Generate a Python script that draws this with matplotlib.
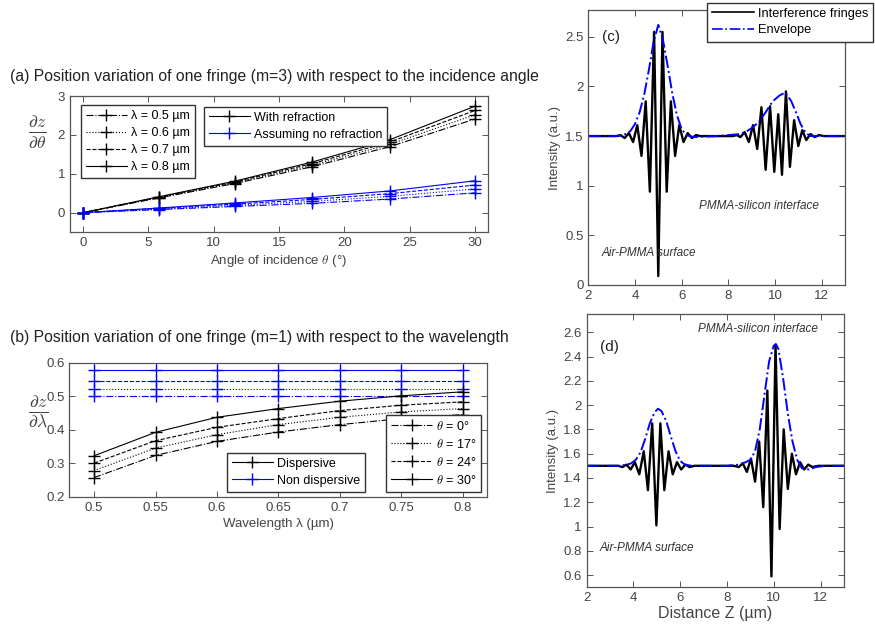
import numpy as np
import matplotlib
matplotlib.use("Agg")
import matplotlib.pyplot as plt
from matplotlib.lines import Line2D

plt.rcParams['font.family'] = ['Liberation Sans', 'DejaVu Sans']
plt.rcParams['mathtext.fontset'] = 'cm'

GREY = '#555555'
TXT = '#444444'

# (a) dz/dtheta vs angle of incidence, m = 3
theta_deg = [0, 5.8, 11.6, 17.5, 23.5, 30]
refr_05 = [0, 0.38, 0.75, 1.18, 1.70, 2.41]
refr_06 = [0, 0.39, 0.77, 1.22, 1.76, 2.52]
refr_07 = [0, 0.40, 0.79, 1.26, 1.82, 2.63]
refr_08 = [0, 0.41, 0.81, 1.30, 1.88, 2.74]
norefr_05 = [0, 0.08, 0.16, 0.24, 0.35, 0.51]
norefr_06 = [0, 0.09, 0.19, 0.29, 0.42, 0.61]
norefr_07 = [0, 0.11, 0.22, 0.34, 0.49, 0.71]
norefr_08 = [0, 0.12, 0.25, 0.39, 0.56, 0.82]
lam_labels = ['λ = 0.5 µm', 'λ = 0.6 µm', 'λ = 0.7 µm', 'λ = 0.8 µm']

# (b) dz/dlambda vs wavelength, m = 1
wavelength = [0.5, 0.55, 0.6, 0.65, 0.7, 0.75, 0.8]
disp_0 = [0.258, 0.324, 0.366, 0.394, 0.416, 0.434, 0.446]
disp_17 = [0.279, 0.346, 0.386, 0.416, 0.438, 0.454, 0.464]
disp_24 = [0.301, 0.368, 0.408, 0.434, 0.458, 0.474, 0.484]
disp_30 = [0.323, 0.393, 0.438, 0.464, 0.486, 0.502, 0.514]
nondisp_0 = [0.500] * 7
nondisp_17 = [0.523] * 7
nondisp_24 = [0.547] * 7
nondisp_30 = [0.578] * 7
th_labels = [r'$\theta$ = 0°', r'$\theta$ = 17°', r'$\theta$ = 24°', r'$\theta$ = 30°']

# (c) fringes (extrema) and envelope
fringe_c_z = [2.0, 3.20, 3.38, 3.56, 3.74, 3.92, 4.10, 4.28, 4.46, 4.64, 4.82, 5.00,
              5.18, 5.36, 5.54, 5.72, 5.90, 6.08, 6.26, 6.44, 6.62, 6.8, 8.2, 8.36,
              8.52, 8.70, 8.88, 9.06, 9.24, 9.42, 9.60, 9.79, 9.97, 10.14, 10.30,
              10.47, 10.64, 10.82, 11.00, 11.17, 11.34, 11.52, 11.70, 11.88, 12.1, 13.0]
fringe_c_i = [1.50, 1.50, 1.51, 1.48, 1.53, 1.44, 1.61, 1.30, 1.85, 0.94, 2.55, 0.09,
              2.55, 0.94, 1.85, 1.30, 1.61, 1.44, 1.53, 1.48, 1.51, 1.50, 1.50, 1.51,
              1.49, 1.54, 1.44, 1.61, 1.37, 1.79, 1.16, 1.80, 1.14, 1.72, 1.11,
              1.95, 1.19, 1.66, 1.40, 1.56, 1.46, 1.52, 1.49, 1.51, 1.50, 1.50]
env_c_z = [2.0, 3.3, 3.6, 3.8, 4.0, 4.2, 4.4, 4.6, 4.8, 5.0, 5.2, 5.4, 5.6, 5.8, 6.0,
           6.2, 6.5, 7.5, 8.5, 8.8, 9.0, 9.3, 9.6, 9.9, 10.2, 10.45, 10.7, 10.9, 11.1,
           11.3, 11.5, 12.0, 13.0]
env_c_i = [1.50, 1.50, 1.52, 1.55, 1.62, 1.74, 1.92, 2.17, 2.45, 2.62, 2.47, 2.21,
           1.93, 1.71, 1.57, 1.51, 1.49, 1.50, 1.52, 1.55, 1.58, 1.64, 1.74, 1.85,
           1.91, 1.94, 1.85, 1.74, 1.62, 1.54, 1.50, 1.50, 1.50]

# (d)
fringe_d_z = [2.0, 3.35, 3.53, 3.70, 3.88, 4.06, 4.25, 4.44, 4.62, 4.80, 4.98, 5.15,
              5.32, 5.50, 5.68, 5.86, 6.04, 6.22, 6.40, 6.6, 8.3, 8.50, 8.675, 8.85,
              9.025, 9.20, 9.375, 9.55, 9.725, 9.90, 10.075, 10.25, 10.425, 10.60,
              10.775, 10.95, 11.125, 11.30, 11.475, 11.65, 11.9, 13.0]
fringe_d_i = [1.50, 1.50, 1.49, 1.51, 1.47, 1.53, 1.43, 1.62, 1.30, 1.85, 1.01, 1.85,
              1.30, 1.62, 1.43, 1.53, 1.47, 1.51, 1.49, 1.50, 1.50, 1.49, 1.52, 1.45,
              1.56, 1.37, 1.70, 1.16, 2.12, 0.59, 2.50, 0.98, 1.80, 1.31,
              1.60, 1.43, 1.53, 1.47, 1.51, 1.49, 1.50, 1.50]
env_d_z = [2.0, 3.4, 3.7, 3.9, 4.1, 4.3, 4.5, 4.7, 4.9, 5.05, 5.2, 5.4, 5.6, 5.8, 6.0,
           6.2, 6.5, 8.0, 8.5, 8.8, 9.0, 9.2, 9.4, 9.6, 9.8, 10.0, 10.1, 10.2, 10.4,
           10.6, 10.8, 11.0, 11.2, 11.5, 11.8, 12.2, 13.0]
env_d_i = [1.50, 1.50, 1.51, 1.52, 1.55, 1.61, 1.72, 1.85, 1.94, 1.97, 1.95, 1.87,
           1.74, 1.62, 1.54, 1.51, 1.50, 1.50, 1.51, 1.53, 1.55, 1.62, 1.80, 2.08,
           2.36, 2.49, 2.50, 2.46, 2.22, 1.93, 1.70, 1.55, 1.48, 1.47, 1.49, 1.50, 1.50]

STYLES = ['-.', ':', '--', '-']


def style_axes(ax):
    ax.tick_params(direction='in', top=True, right=True, length=4, width=0.7,
                   color=GREY, labelcolor=TXT, labelsize=9.5)
    for s in ax.spines.values():
        s.set_color(GREY)
        s.set_linewidth(0.9)


def legend_box(leg):
    fr = leg.get_frame()
    fr.set_edgecolor('#333333')
    fr.set_linewidth(1.0)
    fr.set_boxstyle('square', pad=0)


LEG_KW = dict(borderaxespad=0, fontsize=9, handlelength=3.3, labelspacing=0.4,
              handletextpad=0.3, borderpad=0.4, framealpha=1, fancybox=False)

fig = plt.figure(figsize=(8.75, 6.29), dpi=100)

# ---- (a)
ax = fig.add_axes([0.080, 0.631, 0.4777, 0.2162])
for ys, ls in zip([refr_05, refr_06, refr_07, refr_08], STYLES):
    ax.plot(theta_deg, ys, color='black', ls=ls, lw=0.8, marker='+', ms=8, mew=1)
for ys, ls in zip([norefr_05, norefr_06, norefr_07, norefr_08], STYLES):
    ax.plot(theta_deg, ys, color='blue', ls=ls, lw=0.8, marker='+', ms=8, mew=1)
ax.set_xlim(-1, 31)
ax.set_ylim(-0.5, 3)
ax.set_xticks(range(0, 31, 5))
ax.set_yticks([0, 1, 2, 3])
style_axes(ax)
ax.set_xlabel(r'Angle of incidence $\theta$ (°)', fontsize=9.5, color=TXT, labelpad=3)
ax.set_ylabel(r'$\frac{\partial z}{\partial \theta}$', fontsize=18, color=TXT, rotation=0)
ax.yaxis.set_label_coords(-0.078, 0.6)

h1 = [Line2D([], [], color='black', ls=ls, lw=0.8, marker='+', ms=8, mew=1) for ls in STYLES]
leg1 = ax.legend(h1, lam_labels, loc='upper left', bbox_to_anchor=(0.026, 0.934), **LEG_KW)
legend_box(leg1)
ax.add_artist(leg1)
h2 = [Line2D([], [], color='black', lw=0.8, marker='+', ms=8, mew=1),
      Line2D([], [], color='blue', lw=0.8, marker='+', ms=8, mew=1)]
leg2 = ax.legend(h2, ['With refraction', 'Assuming no refraction'], loc='upper left',
                 bbox_to_anchor=(0.32, 0.921), **LEG_KW)
legend_box(leg2)

fig.text(0.0114, 0.8776, '(a) Position variation of one fringe (m=3) with respect to the incidence angle',
         fontsize=11.3, color='#222222', va='center')

# ---- (b)
bx = fig.add_axes([0.0794, 0.2099, 0.4777, 0.213])
for ys, ls in zip([nondisp_0, nondisp_17, nondisp_24, nondisp_30], STYLES):
    bx.plot(wavelength, ys, color='blue', ls=ls, lw=0.8, marker='+', ms=8, mew=1)
for ys, ls in zip([disp_0, disp_17, disp_24, disp_30], STYLES):
    bx.plot(wavelength, ys, color='black', ls=ls, lw=0.8, marker='+', ms=8, mew=1)
bx.set_xlim(0.48, 0.82)
bx.set_ylim(0.2, 0.6)
bx.set_xticks(wavelength)
bx.set_xticklabels(['0.5', '0.55', '0.6', '0.65', '0.7', '0.75', '0.8'])
bx.set_yticks([0.2, 0.3, 0.4, 0.5, 0.6])
style_axes(bx)
bx.set_xlabel('Wavelength λ (µm)', fontsize=9.5, color=TXT, labelpad=3)
bx.set_ylabel(r'$\frac{\partial z}{\partial \lambda}$', fontsize=18, color=TXT, rotation=0)
bx.yaxis.set_label_coords(-0.075, 0.5)

h3 = [Line2D([], [], color='black', lw=0.8, marker='+', ms=8, mew=1),
      Line2D([], [], color='blue', lw=0.8, marker='+', ms=8, mew=1)]
leg3 = bx.legend(h3, ['Dispersive', 'Non dispersive'], loc='lower left',
                 bbox_to_anchor=(0.376, 0.04), **LEG_KW)
legend_box(leg3)
bx.add_artist(leg3)
h4 = [Line2D([], [], color='black', ls=ls, lw=0.8, marker='+', ms=8, mew=1) for ls in STYLES]
leg4 = bx.legend(h4, th_labels, loc='lower right', bbox_to_anchor=(0.985, 0.04), **LEG_KW)
legend_box(leg4)

fig.text(0.0114, 0.464, '(b) Position variation of one fringe (m=1) with respect to the wavelength',
         fontsize=11.3, color='#222222', va='center')

# ---- (c)
cx = fig.add_axes([0.6723, 0.5469, 0.2934, 0.4372])
cx.plot(fringe_c_z, fringe_c_i, color='black', lw=1.7, label='Interference fringes')
cx.plot(env_c_z, env_c_i, color='blue', ls='-.', lw=1.4, label='Envelope')
cx.set_xlim(2, 13)
cx.set_ylim(0, 2.77)
cx.set_xticks(range(2, 13, 2))
cx.set_yticks([0, 0.5, 1, 1.5, 2, 2.5])
cx.set_yticklabels(['0', '0.5', '1', '1.5', '2', '2.5'])
style_axes(cx)
cx.set_ylabel('Intensity (a.u.)', fontsize=9.5, color=TXT, labelpad=3)
cx.text(2.6, 2.5, '(c)', fontsize=11, color='#222222', va='center')
cx.text(6.75, 0.8, 'PMMA-silicon interface', fontsize=8.5, style='italic', color='#333333', va='center')
cx.text(2.58, 0.32, 'Air-PMMA surface', fontsize=8.5, style='italic', color='#333333', va='center')
leg5 = cx.legend(loc='upper left', bbox_to_anchor=(0.462, 1.026), borderaxespad=0,
                 fontsize=9.2, handlelength=3.3, labelspacing=0.35, handletextpad=0.3,
                 borderpad=0.4, framealpha=1, fancybox=False)
legend_box(leg5)
for ln in leg5.get_lines():
    ln.set_linewidth(1.2)

# ---- (d)
dx = fig.add_axes([0.6705, 0.0663, 0.294, 0.4345])
dx.plot(fringe_d_z, fringe_d_i, color='black', lw=1.7)
dx.plot(env_d_z, env_d_i, color='blue', ls='-.', lw=1.4)
dx.set_xlim(2, 13)
dx.set_ylim(0.5, 2.75)
dx.set_xticks(range(2, 13, 2))
dx.set_yticks([0.6, 0.8, 1.0, 1.2, 1.4, 1.6, 1.8, 2.0, 2.2, 2.4, 2.6])
dx.set_yticklabels(['0.6', '0.8', '1', '1.2', '1.4', '1.6', '1.8', '2', '2.2', '2.4', '2.6'])
style_axes(dx)
dx.set_ylabel('Intensity (a.u.)', fontsize=9.5, color=TXT, labelpad=3)
dx.set_xlabel('Distance Z (µm)', fontsize=11.5, color=TXT, labelpad=1)
dx.text(2.56, 2.48, '(d)', fontsize=11, color='#222222', va='center')
dx.text(6.77, 2.63, 'PMMA-silicon interface', fontsize=8.5, style='italic', color='#333333', va='center')
dx.text(2.56, 0.82, 'Air-PMMA surface', fontsize=8.5, style='italic', color='#333333', va='center')

fig.savefig('out.png', dpi=100)
